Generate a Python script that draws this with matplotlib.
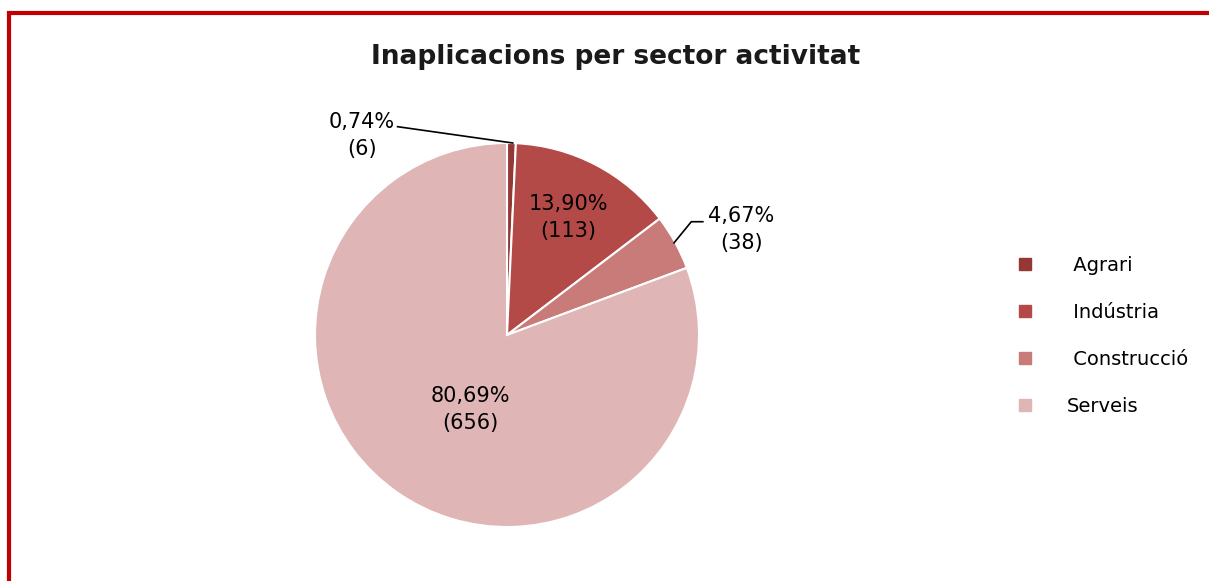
import matplotlib.pyplot as plt
from matplotlib.patches import Rectangle

# dades
sectors = ['Agrari', 'Indústria', 'Construcció', 'Serveis']
valors = [6, 113, 38, 656]
percentatges = ['0,74%', '13,90%', '4,67%', '80,69%']
colors = ['#953735', '#B44A48', '#C97B7A', '#DFB5B5']

fig = plt.figure(figsize=(12.09, 5.81), dpi=100)

# marc vermell (dreta i baix queden fora de la imatge)
fig.patches.append(Rectangle((9 / 1209, -0.05), 1.1, 1.05 - 13 / 581,
                             transform=fig.transFigure, fill=False,
                             edgecolor='#C00000', linewidth=3))

fig.text(616 / 1209, 1 - 57 / 581, 'Inaplicacions per sector activitat',
         ha='center', va='center', fontsize=19, fontweight='bold',
         color='#1a1a1a')

ax = fig.add_axes([315 / 1209, 54 / 581, 384 / 1209, 384 / 581])
wedges, _ = ax.pie(valors, colors=colors, startangle=90, counterclock=False,
                   radius=1, wedgeprops=dict(edgecolor='white', linewidth=1.5))
ax.set_xlim(-1, 1)
ax.set_ylim(-1, 1)
ax.set_aspect('equal')

etiquetes = [f'{p}\n({v})' for p, v in zip(percentatges, valors)]
fs = 15
ls = 1.45

# etiquetes interiors
ax.text(0.32, 0.61, etiquetes[1], ha='center', va='center', fontsize=fs,
        linespacing=ls)
ax.text(-0.19, -0.39, etiquetes[3], ha='center', va='center', fontsize=fs,
        linespacing=ls)

# etiquetes exteriors amb línia guia
ax.text(-0.755, 1.04, etiquetes[0], ha='center', va='center', fontsize=fs,
        linespacing=ls)
ax.plot([-0.57, 0.03], [1.085, 1.0], color='black', linewidth=1.2, clip_on=False)
ax.text(1.22, 0.55, etiquetes[2], ha='center', va='center', fontsize=fs,
        linespacing=ls)
ax.plot([0.87, 0.96, 1.02], [0.48, 0.59, 0.59], color='black', linewidth=1.2,
        clip_on=False)

handles = [plt.Line2D([], [], marker='s', linestyle='', markersize=8,
                      markerfacecolor=c, markeredgecolor=c) for c in colors]
noms = [' ' + s for s in sectors[:3]] + [sectors[3]]
fig.legend(handles, noms, loc='center left',
           bbox_to_anchor=(1015 / 1209, 1 - 336 / 581), frameon=False,
           fontsize=14, labelspacing=1.45, handlelength=1.0,
           handletextpad=1.68, borderpad=0, borderaxespad=0)

plt.savefig('out.png', dpi=100)
